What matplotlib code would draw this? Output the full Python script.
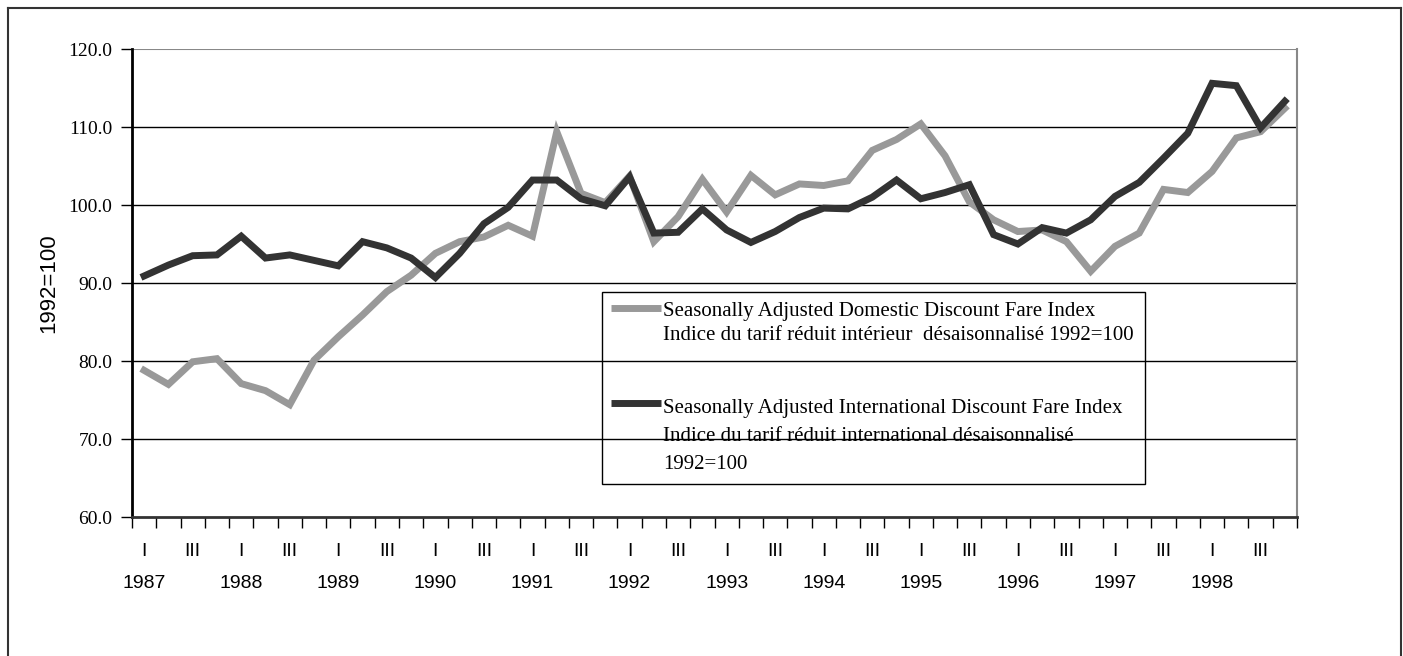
import matplotlib
matplotlib.use("Agg")
import matplotlib.pyplot as plt
from matplotlib.lines import Line2D
from matplotlib.patches import Rectangle
import matplotlib.transforms as mtransforms

years = list(range(1987, 1999))
quarters = ["I", "II", "III", "IV"]

# seasonally adjusted domestic discount fare index, 1987Q1..1998Q4
domestic = [78.8, 77.0, 79.9, 80.3, 77.1, 76.2, 74.4, 80.1, 83.1, 85.9, 88.9, 91.0,
            93.8, 95.3, 95.9, 97.4, 96.0, 109.4, 101.5, 100.3, 103.7, 95.3, 98.5, 103.3,
            99.1, 103.8, 101.3, 102.7, 102.5, 103.1, 107.0, 108.4, 110.4, 106.3, 100.4, 98.1,
            96.6, 96.8, 95.3, 91.5, 94.7, 96.4, 102.0, 101.6, 104.3, 108.6, 109.4, 112.4]

# seasonally adjusted international discount fare index
international = [90.9, 92.3, 93.5, 93.6, 96.0, 93.2, 93.6, 92.9, 92.2, 95.3, 94.5, 93.2,
                 90.7, 93.8, 97.6, 99.7, 103.2, 103.2, 100.8, 99.9, 103.6, 96.4, 96.5, 99.5,
                 96.8, 95.2, 96.6, 98.4, 99.6, 99.5, 101.0, 103.2, 100.8, 101.6, 102.6, 96.2,
                 95.0, 97.1, 96.4, 98.1, 101.1, 102.9, 106.0, 109.2, 115.6, 115.3, 109.9, 113.3]

dom_label = ["Seasonally Adjusted Domestic Discount Fare Index",
             "Indice du tarif réduit intérieur  désaisonnalisé 1992=100"]
int_label = ["Seasonally Adjusted International Discount Fare Index",
             "Indice du tarif réduit international désaisonnalisé", "1992=100"]

serif = "Liberation Serif"
sans = "Liberation Sans"
W, H = 1403, 656
gray, dark = "#999999", "#333333"

fig = plt.figure(figsize=(W/100, H/100), dpi=100)
ax = fig.add_axes([132/W, 1-517/H, (1297-132)/W, (517-49)/H])

n = len(domestic)
x = [i + 0.5 for i in range(n)]
ax.plot(x, domestic, color=gray, lw=5, solid_joinstyle="miter")
ax.plot(x, international, color=dark, lw=5, solid_joinstyle="miter")

ax.set_xlim(0, n)
ax.set_ylim(60, 120)
ax.set_yticks(range(60, 121, 10))
ax.set_yticklabels([f"{v:.1f}" for v in range(60, 121, 10)], fontfamily=serif, fontsize=14)
for v in range(70, 120, 10):
    ax.axhline(v, color="black", lw=1, zorder=0)
ax.axhline(120, color="#888888", lw=1.5, zorder=0)

ax.set_xticks(range(0, n + 1))
ax.set_xticklabels([])
ax.tick_params(axis="x", direction="out", length=8, width=1, color="black")
ax.tick_params(axis="y", direction="out", length=8, width=1, color="black", pad=6)

ax.spines["top"].set_visible(False)
ax.spines["right"].set_color("#888888")
ax.spines["right"].set_linewidth(1.5)
ax.spines["left"].set_linewidth(2)
ax.spines["bottom"].set_linewidth(2)
ax.spines["bottom"].set_color(dark)

trans = mtransforms.blended_transform_factory(ax.transData, fig.transFigure)
for yi, yr in enumerate(years):
    for qi, q in enumerate(quarters):
        if q in ("I", "III"):
            ax.text(yi*4 + qi + 0.5, 1-552/H, q, transform=trans, ha="center", va="center",
                    fontfamily=sans, fontsize=14)
    ax.text(yi*4 + 0.5, 1-584/H, str(yr), transform=trans, ha="center", va="center",
            fontfamily=sans, fontsize=14)

fig.text(49/W, 1-283/H, "1992=100", rotation=90, ha="center", va="center",
         fontfamily=sans, fontsize=16)

# legend box, laid out like the original
fig.add_artist(Rectangle((602/W, 1-484/H), (1145-602)/W, (484-292)/H, fill=False,
                         edgecolor="black", lw=1, transform=fig.transFigure))
for color, lines, hy, ty, step in [(gray, dom_label, 308, 309, 24),
                                    (dark, int_label, 403, 406, 28)]:
    fig.add_artist(Line2D((611/W, 661/W), (1-hy/H, 1-hy/H), color=color, lw=5,
                          solid_capstyle="butt", transform=fig.transFigure))
    for k, s in enumerate(lines):
        fig.text(663/W, 1-(ty + step*k)/H, s, ha="left", va="center_baseline",
                 fontfamily=serif, fontsize=15)

# outer chart border
for xs, ys in [((8/W, 8/W), (0, 1-8/H)), ((8/W, 1401/W), (1-8/H, 1-8/H)),
               ((1401/W, 1401/W), (0, 1-8/H))]:
    fig.add_artist(Line2D(xs, ys, color=dark, lw=1.5, transform=fig.transFigure))

fig.savefig("out.png", dpi=100)
